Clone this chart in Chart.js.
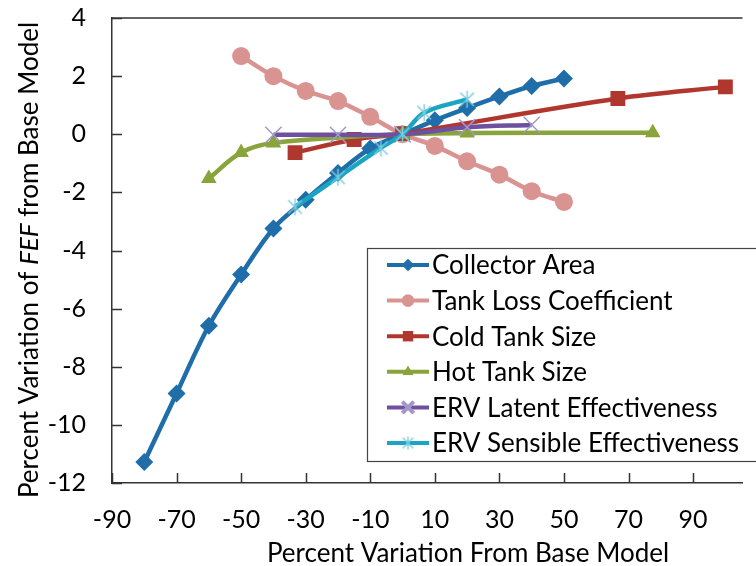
<!DOCTYPE html>
<html>
<head>
<meta charset="utf-8">
<script src="https://cdn.jsdelivr.net/npm/chart.js@4.4.0/dist/chart.umd.min.js"></script>
<style>
  html, body { margin: 0; padding: 0; background: #fff; }
</style>
</head>
<body>
<canvas id="chart" width="756" height="566"></canvas>
<script>
// tick labels
const xTickLabels = [-90, -70, -50, -30, -10, 10, 30, 50, 70, 90];
const yTickLabels = [-12, -10, -8, -6, -4, -2, 0, 2, 4];

// series
const seriesNames = ["Collector Area", "Tank Loss Coefficient", "Cold Tank Size",
  "Hot Tank Size", "ERV Latent Effectiveness", "ERV Sensible Effectiveness"];

const collectorX = [-80, -70, -60, -50, -40, -30, -20, -10, 0, 10, 20, 30, 40, 50];
const collectorY = [-11.28, -8.92, -6.59, -4.83, -3.24, -2.25, -1.33, -0.49, 0, 0.48, 0.9, 1.3, 1.66, 1.92];

const tankLossX = [-50, -40, -30, -20, -10, 0, 10, 20, 30, 40, 50];
const tankLossY = [2.69, 2.0, 1.49, 1.14, 0.6, 0, -0.4, -0.93, -1.39, -1.96, -2.33];

const coldTankX = [-33.3, -15, 0, 66.7, 100];
const coldTankY = [-0.63, -0.18, 0.02, 1.23, 1.63];

const hotTankX = [-60, -50, -40, 0, 20, 77.5];
const hotTankY = [-1.52, -0.63, -0.3, 0, 0.04, 0.05];

const latentX = [-40, -20, 0, 20, 40];
const latentY = [-0.02, -0.02, 0, 0.24, 0.32];

const sensibleX = [-33.3, -20, -6.7, 0, 6.7, 20];
const sensibleY = [-2.5, -1.48, -0.47, 0, 0.74, 1.2];

const FONT = "Lato, 'Open Sans', sans-serif";

function pts(xs, ys) {
  return xs.map((x, i) => ({ x: x, y: ys[i] }));
}

// excel style asterisk marker (x plus vertical bar)
function asterisk(size, color) {
  const c = document.createElement("canvas");
  c.width = size; c.height = size;
  const g = c.getContext("2d");
  const m = size / 2, r = size / 2 - 1;
  g.strokeStyle = color;
  g.lineWidth = 1.4;
  g.beginPath();
  g.moveTo(m - r * 0.8, m - r * 0.8); g.lineTo(m + r * 0.8, m + r * 0.8);
  g.moveTo(m + r * 0.8, m - r * 0.8); g.lineTo(m - r * 0.8, m + r * 0.8);
  g.moveTo(m, m - r); g.lineTo(m, m + r);
  g.stroke();
  return c;
}

const starBig = asterisk(19, "#7ccbdd");
const starSmall = asterisk(15, "#7ccbdd");

const datasets = [
  { label: seriesNames[0], data: pts(collectorX, collectorY), borderColor: "#1f6eaa",
    backgroundColor: "#1f6eaa", pointStyle: "rectRot", pointRadius: 9, pointBorderWidth: 0 },
  { label: seriesNames[1], data: pts(tankLossX, tankLossY), borderColor: "#d99391",
    backgroundColor: "#d99391", pointStyle: "circle", pointRadius: 9, pointBorderWidth: 0 },
  { label: seriesNames[2], data: pts(coldTankX, coldTankY), borderColor: "#b0372d",
    backgroundColor: "#b0372d", pointStyle: "rect", pointRadius: 10.5, pointBorderWidth: 0 },
  { label: seriesNames[3], data: pts(hotTankX, hotTankY), borderColor: "#88a43a",
    backgroundColor: "#88a43a", pointStyle: "triangle", pointRadius: 9, pointBorderWidth: 0 },
  { label: seriesNames[4], data: pts(latentX, latentY), borderColor: "#6f4f9f",
    backgroundColor: "#a397c9", pointStyle: "crossRot", pointRadius: 11.5,
    pointBorderColor: "#a397c9", pointBorderWidth: 1.5 },
  { label: seriesNames[5], data: pts(sensibleX, sensibleY), borderColor: "#1ba5c2",
    backgroundColor: "#7ccbdd", pointStyle: starBig, pointRadius: 9 }
];

datasets.forEach((d, i) => {
  d.showLine = true;
  d.borderWidth = 4.5;
  d.tension = 0.35;
  d.order = datasets.length - i; // later series on top, like excel
});

const framePlugin = {
  id: "frame",
  afterDraw(chart) {
    const ctx = chart.ctx;
    const a = chart.chartArea;
    const xs = chart.scales.x, ys = chart.scales.y;
    ctx.save();
    // top border + inner ticks
    ctx.strokeStyle = "#333";
    ctx.lineWidth = 1.5;
    ctx.beginPath();
    ctx.moveTo(a.left, a.top); ctx.lineTo(a.right, a.top);
    xs.ticks.forEach(t => {
      const px = Math.round(xs.getPixelForValue(t.value)) + 0.5;
      ctx.moveTo(px, a.bottom); ctx.lineTo(px, a.bottom - 10);
    });
    ys.ticks.forEach(t => {
      const py = Math.round(ys.getPixelForValue(t.value)) + 0.5;
      ctx.moveTo(a.left, py); ctx.lineTo(a.left + 10, py);
    });
    ctx.stroke();

    // axis titles
    ctx.fillStyle = "#000";
    ctx.textBaseline = "middle";
    ctx.font = "26px " + FONT;
    ctx.textAlign = "center";
    ctx.fillText("Percent Variation From Base Model", 468, 554);

    const parts = [["Percent Variation of ", "26px "], ["FEF", "italic 26px "], [" from Base Model", "26px "]];
    let total = 0;
    parts.forEach(p => { ctx.font = p[1] + FONT; total += ctx.measureText(p[0]).width; });
    ctx.translate(30, 260);
    ctx.rotate(-Math.PI / 2);
    ctx.textAlign = "left";
    let cx = -total / 2;
    parts.forEach(p => {
      ctx.font = p[1] + FONT;
      ctx.fillText(p[0], cx, 0);
      cx += ctx.measureText(p[0]).width;
    });
    ctx.setTransform(1, 0, 0, 1, 0, 0);

    // legend box
    const lx = 367, ly = 248, lw = 395, lh = 213;
    ctx.fillStyle = "#fff";
    ctx.fillRect(lx, ly, lw, lh);
    ctx.strokeStyle = "#444";
    ctx.lineWidth = 1.2;
    ctx.strokeRect(lx + 0.5, ly + 0.5, lw, lh);
    chart.data.datasets.forEach((d, i) => {
      const yy = 265 + i * 35.6;
      ctx.strokeStyle = d.borderColor;
      ctx.lineWidth = 4;
      ctx.beginPath();
      ctx.moveTo(387, yy); ctx.lineTo(429, yy);
      ctx.stroke();
      if (i === 5) {
        ctx.drawImage(starSmall, 408 - 7.5, yy - 7.5);
      } else {
        ctx.fillStyle = d.backgroundColor;
        ctx.strokeStyle = d.pointBorderColor || d.backgroundColor;
        Chart.helpers.drawPoint(ctx, {
          pointStyle: d.pointStyle,
          radius: d.pointRadius * 0.7,
          rotation: 0,
          borderWidth: d.pointBorderWidth
        }, 408, yy);
      }
      ctx.fillStyle = "#000";
      ctx.font = "26px " + FONT;
      ctx.textAlign = "left";
      ctx.fillText(d.label, 432, yy + 1);
    });
    ctx.restore();
  }
};

new Chart(document.getElementById("chart"), {
  type: "scatter",
  data: { datasets: datasets },
  options: {
    responsive: false,
    animation: false,
    layout: { padding: { top: 18, right: 0, left: 0, bottom: 0 } },
    plugins: { legend: { display: false }, tooltip: { enabled: false } },
    scales: {
      x: {
        type: "linear",
        min: -90,
        max: 105.3,
        afterBuildTicks: s => { s.ticks = xTickLabels.map(v => ({ value: v })); },
        afterFit: s => { s.height = 83; s.paddingLeft = 0; s.paddingRight = 0; },
        grid: { display: false, drawTicks: false },
        border: { display: true, color: "#333", width: 1.5 },
        ticks: { color: "#000", font: { family: FONT, size: 25 }, padding: 22,
          maxRotation: 0, autoSkip: false }
      },
      y: {
        min: -12,
        max: 4,
        afterBuildTicks: s => { s.ticks = yTickLabels.map(v => ({ value: v })); },
        afterFit: s => { s.width = 112; s.paddingTop = 0; s.paddingBottom = 0; },
        grid: { display: false, drawTicks: false },
        border: { display: true, color: "#333", width: 1.5 },
        ticks: { color: "#000", font: { family: FONT, size: 25 }, padding: 26 }
      }
    }
  },
  plugins: [framePlugin]
});
</script>
</body>
</html>
